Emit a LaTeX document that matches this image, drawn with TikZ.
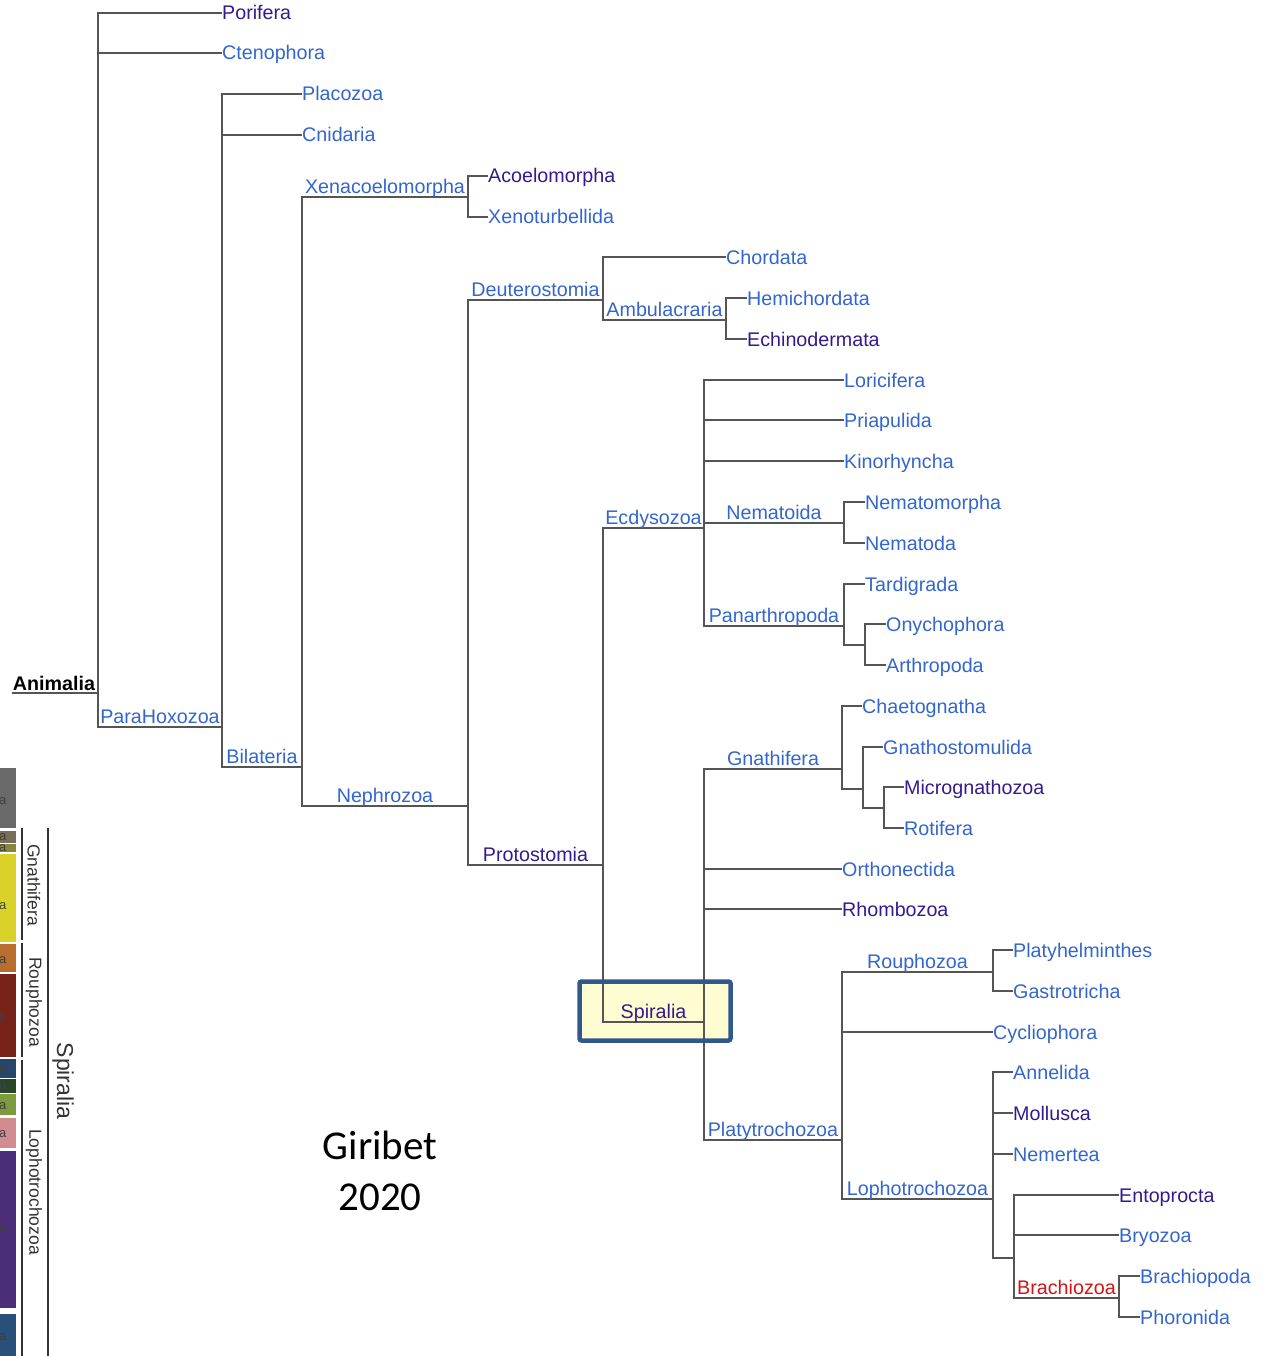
\documentclass[tikz,border=0pt]{standalone}
\usepackage{fontspec}
\setmainfont{Liberation Sans}
\newfontfamily\calib{Carlito}
\definecolor{lnk}{RGB}{51,102,204}
\definecolor{vst}{RGB}{52,26,140}
\definecolor{redlnk}{RGB}{210,20,20}
\definecolor{linegray}{RGB}{85,85,85}
\definecolor{boxblue}{RGB}{47,88,140}
\definecolor{boxfill}{RGB}{254,252,208}
\definecolor{stripgray}{RGB}{105,105,105}
\definecolor{stripbrown}{RGB}{122,110,88}
\definecolor{stripolive}{RGB}{135,135,60}
\definecolor{stripyellow}{RGB}{218,210,40}
\definecolor{striporange}{RGB}{185,110,45}
\definecolor{stripred}{RGB}{120,35,25}
\definecolor{stripnavy}{RGB}{40,70,105}
\definecolor{stripgreen}{RGB}{40,70,40}
\definecolor{stripolivetwo}{RGB}{125,155,60}
\definecolor{strippink}{RGB}{210,140,145}
\definecolor{strippurple}{RGB}{75,45,120}
\definecolor{stripsteel}{RGB}{40,80,120}
\newcommand{\lblfont}{\fontsize{19.7}{22}\selectfont}
\tikzset{
  br/.style={draw=linegray, line width=2pt},
  leaf/.style={anchor=west, inner sep=0pt, text height=14pt, text depth=0pt, font=\lblfont, text=lnk},
  clade/.style={anchor=south, inner sep=0pt, yshift=3.5pt, text depth=0pt, font=\lblfont, text=lnk},
  vis/.style={text=vst},
  bar/.style={draw=white, line width=0.6pt},
  stripline/.style={draw=black!80, line width=2.2pt},
  striplabel/.style={rotate=-90, inner sep=0pt, text=black!80, font=\fontsize{17.5}{20}\selectfont},
  cut/.style={anchor=base west, inner sep=0pt, text height=7pt, text depth=0pt, text=black!75, font=\fontsize{13}{15}\selectfont}
}
\begin{document}
\begin{tikzpicture}[x=1pt,y=-1pt]
\useasboundingbox (0,0) rectangle (1275,1356);
% --- left strip ---
\fill[bar, fill=stripgray] (-1,767) rectangle (16,828);
\fill[bar, fill=stripbrown] (-1,830) rectangle (16,843);
\fill[bar, fill=stripolive] (-1,843) rectangle (16,852);
\fill[bar, fill=stripyellow] (-1,853) rectangle (16,942);
\fill[bar, fill=striporange] (-1,943) rectangle (16,972);
\fill[bar, fill=stripred] (-1,973) rectangle (16,1057);
\fill[bar, fill=stripnavy] (-1,1058) rectangle (16,1078);
\fill[bar, fill=stripgreen] (-1,1078) rectangle (16,1093);
\fill[bar, fill=stripolivetwo] (-1,1093) rectangle (16,1115);
\fill[bar, fill=strippink] (-1,1117) rectangle (16,1148);
\fill[bar, fill=strippurple] (-1,1150) rectangle (16,1308);
\fill[bar, fill=stripsteel] (-1,1313) rectangle (16,1357);
\begin{scope}
\clip (0,760) rectangle (16,1356);
\node[cut] (ca1) at (-1,804) {a};
\node[cut] (ca2) at (-1,840) {a};
\node[cut] (ca3) at (-1,851) {a};
\node[cut] (ca4) at (-1,909) {a};
\node[cut] (ca5) at (-1,963) {a};
\node[cut] (ca6) at (-1,1021) {s};
\node[cut] (ca7) at (-1,1072) {a};
\node[cut] (ca8) at (-1,1089) {a};
\node[cut] (ca9) at (-1,1109) {a};
\node[cut] (ca10) at (-1,1137) {a};
\node[cut] (ca11) at (-1,1232) {a};
\node[cut] (ca12) at (-1,1340) {a};
\end{scope}
\coordinate (gnA) at (22,828);
\coordinate (gnB) at (22,940);
\coordinate (roA) at (22,943);
\coordinate (roB) at (22,1057);
\coordinate (loA) at (22,1060);
\coordinate (loB) at (22,1357);
\coordinate (spA) at (48,828);
\coordinate (spB) at (48,1357);
\draw[stripline] (gnA) -- (gnB);
\draw[stripline] (roA) -- (roB);
\draw[stripline] (loA) -- (loB);
\draw[stripline] (spA) -- (spB);
\node[striplabel] (sGn) at (34,885) {Gnathifera};
\node[striplabel] (sRo) at (34,1002) {Rouphozoa};
\node[striplabel] (sLo) at (34,1192) {Lophotrochozoa};
\node[striplabel, font=\fontsize{23}{26}\selectfont] (sSp) at (63,1081) {Spiralia};
% --- Spiralia highlight box (fill) ---
\fill[boxfill, rounded corners=2pt] (579.5,981.5) rectangle (730.5,1040.5);
% --- clade points ---
\coordinate (root) at (12,693);
\coordinate (Animalia) at (98,693);
\coordinate (ParaHoxozoa) at (222,727);
\coordinate (Bilateria) at (302,767);
\coordinate (Xenacoelomorpha) at (468,197);
\coordinate (Nephrozoa) at (468,806);
\coordinate (Deuterostomia) at (603,300);
\coordinate (Ambulacraria) at (726,320);
\coordinate (Protostomia) at (603,865);
\coordinate (Ecdysozoa) at (704,528);
\coordinate (Nematoida) at (844,523);
\coordinate (Panarthropoda) at (844,626);
\coordinate (OnyArt) at (865,645);
\coordinate (Spiralia) at (704,1022);
\coordinate (Gnathifera) at (842,769);
\coordinate (GnSub) at (863,789);
\coordinate (MicRot) at (884,808);
\coordinate (Platytrochozoa) at (842,1140);
\coordinate (Rouphozoa) at (993,972);
\coordinate (Lophotrochozoa) at (993,1199);
\coordinate (EBB) at (1014,1258);
\coordinate (Brachiozoa) at (1119,1298);
% --- leaves ---
\node[leaf,vis] (Porifera) at (222,13) {Porifera};
\node[leaf] (Ctenophora) at (222,53) {Ctenophora};
\node[leaf] (Placozoa) at (302,94) {Placozoa};
\node[leaf] (Cnidaria) at (302,135) {Cnidaria};
\node[leaf,vis] (Acoelomorpha) at (488,176) {Acoelomorpha};
\node[leaf] (Xenoturbellida) at (488,217) {Xenoturbellida};
\node[leaf] (Chordata) at (726,257) {Chordata};
\node[leaf] (Hemichordata) at (747,298) {Hemichordata};
\node[leaf,vis] (Echinodermata) at (747,339) {Echinodermata};
\node[leaf] (Loricifera) at (844,380) {Loricifera};
\node[leaf] (Priapulida) at (844,420) {Priapulida};
\node[leaf] (Kinorhyncha) at (844,461) {Kinorhyncha};
\node[leaf] (Nematomorpha) at (865,502) {Nematomorpha};
\node[leaf] (Nematoda) at (865,543) {Nematoda};
\node[leaf] (Tardigrada) at (865,584) {Tardigrada};
\node[leaf] (Onychophora) at (886,624) {Onychophora};
\node[leaf] (Arthropoda) at (886,665) {Arthropoda};
\node[leaf] (Chaetognatha) at (862,706) {Chaetognatha};
\node[leaf] (Gnathostomulida) at (883,747) {Gnathostomulida};
\node[leaf,vis] (Micrognathozoa) at (904,787) {Micrognathozoa};
\node[leaf] (Rotifera) at (904,828) {Rotifera};
\node[leaf] (Orthonectida) at (842,869) {Orthonectida};
\node[leaf,vis] (Rhombozoa) at (842,909) {Rhombozoa};
\node[leaf] (Platyhelminthes) at (1013,950) {Platyhelminthes};
\node[leaf] (Gastrotricha) at (1013,991) {Gastrotricha};
\node[leaf] (Cycliophora) at (993,1032) {Cycliophora};
\node[leaf] (Annelida) at (1013,1072) {Annelida};
\node[leaf,vis] (Mollusca) at (1013,1113) {Mollusca};
\node[leaf] (Nemertea) at (1013,1154) {Nemertea};
\node[leaf,vis] (Entoprocta) at (1119,1195) {Entoprocta};
\node[leaf] (Bryozoa) at (1119,1235) {Bryozoa};
\node[leaf] (Brachiopoda) at (1140,1276) {Brachiopoda};
\node[leaf] (Phoronida) at (1140,1317) {Phoronida};
% --- branches ---
\draw[br] (root) -- (Animalia);
\draw[br] (Animalia) |- (Porifera.west);
\draw[br] (Animalia) |- (Ctenophora.west);
\draw[br] (Animalia) |- (ParaHoxozoa);
\draw[br] (ParaHoxozoa) |- (Placozoa.west);
\draw[br] (ParaHoxozoa) |- (Cnidaria.west);
\draw[br] (ParaHoxozoa) |- (Bilateria);
\draw[br] (Bilateria) |- (Xenacoelomorpha);
\draw[br] (Bilateria) |- (Nephrozoa);
\draw[br] (Xenacoelomorpha) |- (Acoelomorpha.west);
\draw[br] (Xenacoelomorpha) |- (Xenoturbellida.west);
\draw[br] (Nephrozoa) |- (Deuterostomia);
\draw[br] (Nephrozoa) |- (Protostomia);
\draw[br] (Deuterostomia) |- (Chordata.west);
\draw[br] (Deuterostomia) |- (Ambulacraria);
\draw[br] (Ambulacraria) |- (Hemichordata.west);
\draw[br] (Ambulacraria) |- (Echinodermata.west);
\draw[br] (Protostomia) |- (Ecdysozoa);
\draw[br] (Protostomia) |- (Spiralia);
\draw[br] (Ecdysozoa) |- (Loricifera.west);
\draw[br] (Ecdysozoa) |- (Priapulida.west);
\draw[br] (Ecdysozoa) |- (Kinorhyncha.west);
\draw[br] (Ecdysozoa) |- (Nematoida);
\draw[br] (Ecdysozoa) |- (Panarthropoda);
\draw[br] (Nematoida) |- (Nematomorpha.west);
\draw[br] (Nematoida) |- (Nematoda.west);
\draw[br] (Panarthropoda) |- (Tardigrada.west);
\draw[br] (Panarthropoda) |- (OnyArt);
\draw[br] (OnyArt) |- (Onychophora.west);
\draw[br] (OnyArt) |- (Arthropoda.west);
\draw[br] (Spiralia) |- (Gnathifera);
\draw[br] (Spiralia) |- (Orthonectida.west);
\draw[br] (Spiralia) |- (Rhombozoa.west);
\draw[br] (Spiralia) |- (Platytrochozoa);
\draw[br] (Gnathifera) |- (Chaetognatha.west);
\draw[br] (Gnathifera) |- (GnSub);
\draw[br] (GnSub) |- (Gnathostomulida.west);
\draw[br] (GnSub) |- (MicRot);
\draw[br] (MicRot) |- (Micrognathozoa.west);
\draw[br] (MicRot) |- (Rotifera.west);
\draw[br] (Platytrochozoa) |- (Rouphozoa);
\draw[br] (Platytrochozoa) |- (Cycliophora.west);
\draw[br] (Platytrochozoa) |- (Lophotrochozoa);
\draw[br] (Rouphozoa) |- (Platyhelminthes.west);
\draw[br] (Rouphozoa) |- (Gastrotricha.west);
\draw[br] (Lophotrochozoa) |- (Annelida.west);
\draw[br] (Lophotrochozoa) |- (Mollusca.west);
\draw[br] (Lophotrochozoa) |- (Nemertea.west);
\draw[br] (Lophotrochozoa) |- (EBB);
\draw[br] (EBB) |- (Entoprocta.west);
\draw[br] (EBB) |- (Bryozoa.west);
\draw[br] (EBB) |- (Brachiozoa);
\draw[br] (Brachiozoa) |- (Brachiopoda.west);
\draw[br] (Brachiozoa) |- (Phoronida.west);
% --- clade labels ---
\node[clade, text=black, font=\lblfont\bfseries, yshift=-1.5pt] (lAnimalia) at (54,693) {Animalia};
\node[clade] (lParaHoxozoa) at (160,727) {ParaHoxozoa};
\node[clade] (lBilateria) at (262,767) {Bilateria};
\node[clade] (lXenacoelomorpha) at (385,197) {Xenacoelomorpha};
\node[clade] (lNephrozoa) at (385,806) {Nephrozoa};
\node[clade] (lDeuterostomia) at (535.5,300) {Deuterostomia};
\node[clade] (lAmbulacraria) at (664.5,320) {Ambulacraria};
\node[clade,vis] (lProtostomia) at (535.5,865) {Protostomia};
\node[clade] (lEcdysozoa) at (653.5,528) {Ecdysozoa};
\node[clade] (lNematoida) at (774,523) {Nematoida};
\node[clade] (lPanarthropoda) at (774,626) {Panarthropoda};
\node[clade,vis] (lSpiralia) at (653.5,1022) {Spiralia};
\node[clade] (lGnathifera) at (773,769) {Gnathifera};
\node[clade] (lPlatytrochozoa) at (773,1140) {Platytrochozoa};
\node[clade] (lRouphozoa) at (917.5,972) {Rouphozoa};
\node[clade] (lLophotrochozoa) at (917.5,1199) {Lophotrochozoa};
\node[clade, text=redlnk] (lBrachiozoa) at (1066.5,1298) {Brachiozoa};
% --- Spiralia highlight box (border) ---
\draw[boxblue, line width=4.5pt, rounded corners=2pt] (579.5,981.5) rectangle (730.5,1040.5);
% --- caption ---
\node[anchor=base, inner sep=0pt, font=\calib\fontsize{41}{46}\selectfont] (capA) at (380,1159) {Giribet};
\node[anchor=base, inner sep=0pt, font=\calib\fontsize{41}{46}\selectfont] (capB) at (380,1210) {2020};
\end{tikzpicture}
\end{document}
